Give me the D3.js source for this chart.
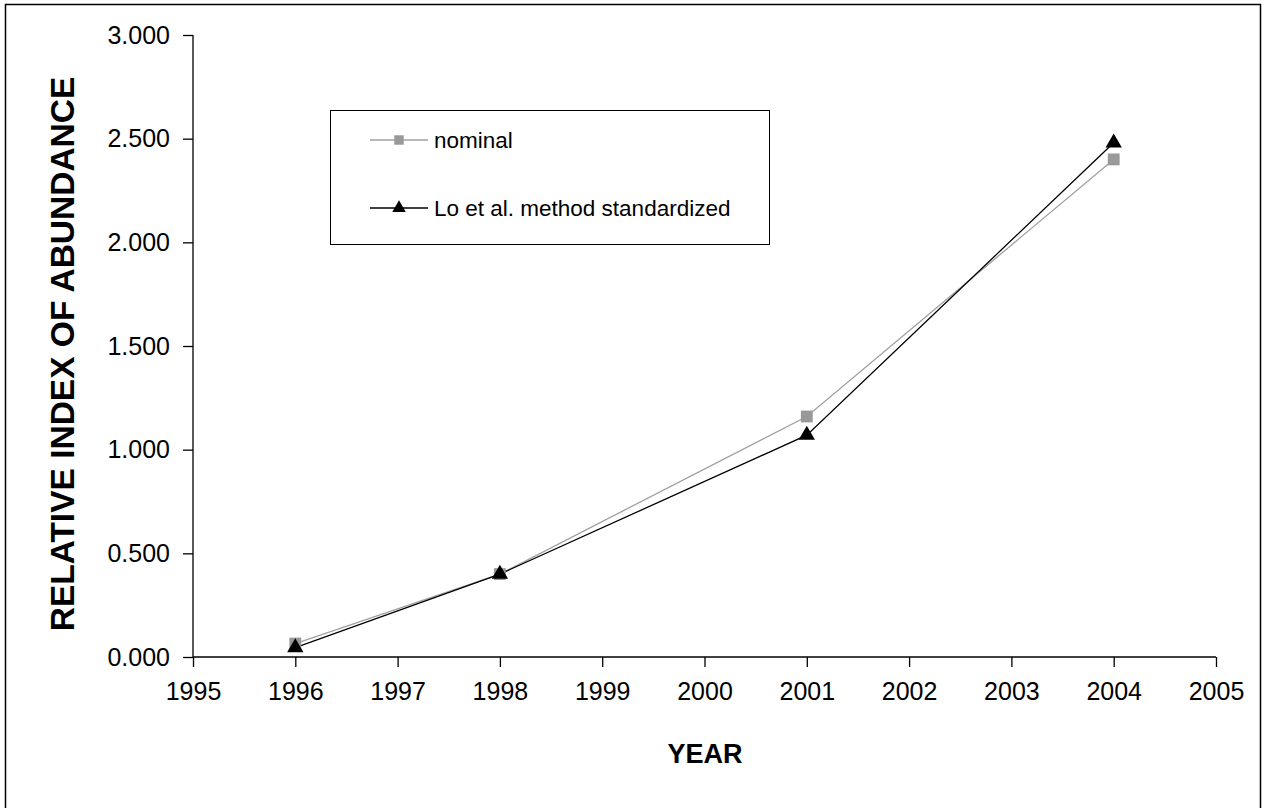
<!DOCTYPE html>
<html><head><meta charset="utf-8">
<script src="https://cdn.jsdelivr.net/npm/d3@7"></script>
<style>body{margin:0;background:#fff}svg{display:block}text{font-family:"Liberation Sans",Arial,sans-serif}</style>
</head><body>
<script>
const years = [1996, 1998, 2001, 2004];
const nominal = [0.065, 0.40, 1.16, 2.40];
const loStandardized = [0.045, 0.40, 1.07, 2.48];
const xTicks = [1995,1996,1997,1998,1999,2000,2001,2002,2003,2004,2005];
const yTicks = [0, 0.5, 1.0, 1.5, 2.0, 2.5, 3.0];
const seriesNames = ["nominal", "Lo et al. method standardized"];

const W = 1265, H = 808;
const svg = d3.select("body").append("svg").attr("width", W).attr("height", H);
svg.append("rect").attr("x", 5.5).attr("y", 4.5).attr("width", 1255).attr("height", 812)
  .attr("fill", "none").attr("stroke", "#000").attr("stroke-width", 1.5);

const x = d3.scaleLinear().domain([1995, 2005]).range([193, 1216]);
const y = d3.scaleLinear().domain([0, 3]).range([657, 35]);

const xAxis = svg.append("g").attr("transform", "translate(0,657)")
  .call(d3.axisBottom(x).tickValues(xTicks).tickFormat(d3.format("d")).tickSize(10).tickPadding(12));
const yAxis = svg.append("g").attr("transform", "translate(193,0)")
  .call(d3.axisLeft(y).tickValues(yTicks).tickFormat(d3.format(".3f")).tickSize(10).tickPadding(13));
[xAxis, yAxis].forEach(a => {
  a.attr("font-size", 25).attr("font-family", '"Liberation Sans",Arial,sans-serif');
  a.selectAll("path,line").attr("stroke", "#000").attr("stroke-width", 1.3);
  a.selectAll("text").attr("fill", "#000");
});
xAxis.selectAll("text").attr("dy", "0.85em");
xAxis.select(".domain").attr("d", "M193,0H1216");
yAxis.select(".domain").attr("d", "M0,35V657");

const line = d3.line().x((d,i) => x(years[i])).y(d => y(d));
svg.append("path").datum(nominal).attr("d", line).attr("fill","none").attr("stroke","#a0a0a0").attr("stroke-width",1.3);
svg.append("path").datum(loStandardized).attr("d", line).attr("fill","none").attr("stroke","#000").attr("stroke-width",1.3);

const sq = d3.symbol().type(d3.symbolSquare).size(140);
const tri = d3.symbol().type(d3.symbolTriangle).size(115);
svg.selectAll(".sq").data(nominal).join("path")
  .attr("transform", (d,i) => `translate(${x(years[i])},${y(d)})`).attr("d", sq).attr("fill","#999");
svg.selectAll(".tri").data(loStandardized).join("path")
  .attr("transform", (d,i) => `translate(${x(years[i])},${y(d)})`).attr("d", tri).attr("fill","#000");

// legend
const lg = svg.append("g");
lg.append("rect").attr("x", 330.5).attr("y", 110.5).attr("width", 439).attr("height", 134)
  .attr("fill","#fff").attr("stroke","#000").attr("stroke-width",1);
const rows = [140, 208];
lg.append("line").attr("x1",370).attr("x2",428).attr("y1",rows[0]).attr("y2",rows[0]).attr("stroke","#a0a0a0").attr("stroke-width",1.3);
lg.append("path").attr("transform",`translate(399,${rows[0]})`).attr("d", d3.symbol().type(d3.symbolSquare).size(90)).attr("fill","#999");
lg.append("line").attr("x1",370).attr("x2",428).attr("y1",rows[1]).attr("y2",rows[1]).attr("stroke","#000").attr("stroke-width",1.3);
lg.append("path").attr("transform",`translate(399,${rows[1]})`).attr("d", d3.symbol().type(d3.symbolTriangle).size(80)).attr("fill","#000");
seriesNames.forEach((n,i) => {
  lg.append("text").attr("x", 434).attr("y", rows[i]).attr("dy","0.35em").attr("font-size",22.5).text(n);
});

svg.append("text").attr("transform","translate(74,354) rotate(-90)").attr("text-anchor","middle")
  .attr("font-size",33.5).attr("font-weight","bold").text("RELATIVE INDEX OF ABUNDANCE");
svg.append("text").attr("x",705).attr("y",763).attr("text-anchor","middle")
  .attr("font-size",27).attr("font-weight","bold").text("YEAR");
</script>
</body></html>
